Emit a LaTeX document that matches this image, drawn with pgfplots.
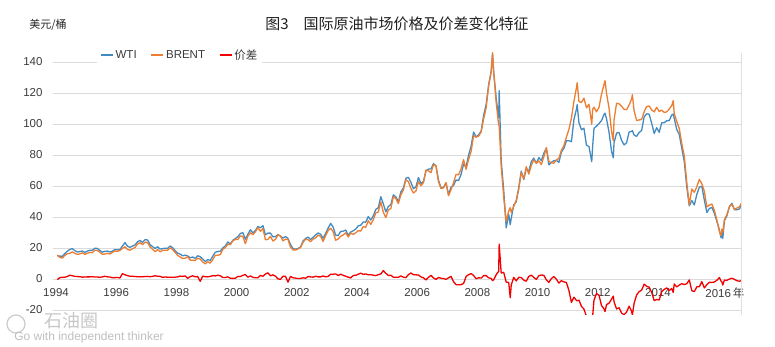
\documentclass[border=0pt]{standalone}
\usepackage{fontspec}
\setmainfont{Liberation Sans}
\newfontfamily\cjk{Noto Sans CJK SC}
\usepackage{pgfplots}
\usepackage{pgfplotstable}
\pgfplotsset{compat=1.18}
\definecolor{wti}{RGB}{66,139,193}
\definecolor{brent}{RGB}{237,125,49}
\definecolor{spr}{RGB}{240,0,0}
\definecolor{tick}{RGB}{60,60,60}
\pgfplotstableread{
yr m wti brent sp
1994 1 15.0 15.4 -0.4
1994 2 14.8 14.0 0.8
1994 3 14.7 13.5 1.2
1994 4 16.4 15.2 1.2
1994 5 17.9 16.3 1.6
1994 6 19.1 16.6 2.5
1994 7 19.6 17.5 2.1
1994 8 18.3 16.6 1.7
1994 9 17.5 15.9 1.6
1994 10 17.7 16.2 1.5
1994 11 18.1 16.9 1.2
1994 12 17.2 15.9 1.3
1995 1 18.0 16.6 1.4
1995 2 18.6 17.2 1.4
1995 3 18.5 17.0 1.5
1995 4 19.9 18.6 1.3
1995 5 19.7 18.4 1.3
1995 6 18.4 17.3 1.1
1995 7 17.3 15.9 1.4
1995 8 17.9 16.1 1.8
1995 9 18.0 16.6 1.4
1995 10 17.4 16.1 1.3
1995 11 18.0 17.2 0.8
1995 12 19.0 18.1 0.9
1996 1 18.9 17.9 1.0
1996 2 19.1 18.4 0.7
1996 3 21.3 19.8 3.5
1996 4 23.5 20.8 2.7
1996 5 21.2 19.0 2.2
1996 6 20.4 18.6 1.8
1996 7 21.3 19.5 1.8
1996 8 22.0 20.4 1.6
1996 9 24.0 22.5 1.5
1996 10 24.9 23.5 1.4
1996 11 23.7 22.2 1.5
1996 12 25.4 23.8 1.6
1997 1 25.2 23.5 1.7
1997 2 22.2 20.7 1.5
1997 3 20.9 19.2 1.7
1997 4 19.7 17.6 2.1
1997 5 20.8 19.0 1.8
1997 6 19.3 17.6 1.7
1997 7 19.6 18.5 1.1
1997 8 19.9 18.6 1.3
1997 9 19.8 18.6 1.2
1997 10 21.3 20.1 1.2
1997 11 20.2 19.1 1.1
1997 12 18.3 17.1 1.2
1998 1 16.7 15.3 1.4
1998 2 16.1 14.2 1.9
1998 3 15.0 13.3 1.7
1998 4 15.4 13.4 2.0
1998 5 14.9 14.4 0.5
1998 6 13.7 12.2 1.5
1998 7 14.2 12.1 2.1
1998 8 13.4 12.0 1.4
1998 9 15.0 13.4 1.6
1998 10 14.4 12.9 -1.5
1998 11 12.9 11.0 1.9
1998 12 11.3 9.8 1.5
1999 1 12.5 11.1 1.4
1999 2 12.0 10.3 1.7
1999 3 14.7 12.5 2.2
1999 4 17.3 15.3 2.0
1999 5 17.8 15.3 2.5
1999 6 17.9 15.8 2.1
1999 7 20.1 19.1 1.0
1999 8 21.3 20.3 1.0
1999 9 23.9 22.5 1.4
1999 10 22.6 22.1 0.5
1999 11 25.0 24.6 0.4
1999 12 26.1 25.6 0.5
2000 1 27.2 25.5 1.7
2000 2 29.4 27.8 1.6
2000 3 29.9 27.5 2.4
2000 4 25.7 22.8 2.9
2000 5 28.8 27.6 1.2
2000 6 31.8 29.8 2.0
2000 7 29.7 28.6 1.1
2000 8 31.3 30.5 0.8
2000 9 33.9 33.1 0.8
2000 10 33.1 30.8 2.3
2000 11 34.4 32.6 1.8
2000 12 28.5 25.3 3.2
2001 1 29.6 25.6 4.0
2001 2 29.6 27.5 2.1
2001 3 27.2 24.5 2.7
2001 4 27.4 25.6 1.8
2001 5 28.6 28.5 0.1
2001 6 27.6 27.8 -0.2
2001 7 26.4 24.6 1.8
2001 8 27.4 25.7 1.7
2001 9 26.2 25.6 -2.0
2001 10 22.2 20.5 1.7
2001 11 19.6 18.8 0.8
2001 12 19.3 18.7 0.6
2002 1 19.7 19.4 0.3
2002 2 20.7 20.3 0.4
2002 3 24.5 23.7 0.8
2002 4 26.2 25.7 0.5
2002 5 27.0 25.4 1.6
2002 6 25.5 24.1 1.4
2002 7 26.9 25.7 1.2
2002 8 28.4 26.6 1.8
2002 9 29.7 28.3 1.4
2002 10 28.9 27.5 1.4
2002 11 26.3 24.3 2.0
2002 12 29.4 28.0 1.4
2003 1 32.9 31.2 1.7
2003 2 35.9 32.8 3.1
2003 3 33.5 30.4 3.1
2003 4 28.3 25.0 3.3
2003 5 28.1 25.8 2.3
2003 6 30.7 27.6 3.1
2003 7 30.8 28.4 2.4
2003 8 31.6 29.8 1.8
2003 9 28.3 27.1 1.2
2003 10 30.3 29.6 0.7
2003 11 31.1 28.8 2.3
2003 12 32.2 29.8 2.4
2004 1 34.3 31.2 3.1
2004 2 34.7 30.9 3.8
2004 3 36.8 33.8 3.0
2004 4 36.7 33.4 3.3
2004 5 40.3 37.6 2.7
2004 6 38.0 35.2 2.8
2004 7 40.7 38.2 2.5
2004 8 44.9 42.7 2.2
2004 9 46.0 43.2 2.8
2004 10 53.1 49.8 3.3
2004 11 48.5 43.1 5.4
2004 12 43.3 39.6 3.7
2005 1 46.8 44.5 2.3
2005 2 48.0 45.5 2.5
2005 3 54.3 53.1 1.2
2005 4 53.0 51.9 1.1
2005 5 49.8 48.7 1.1
2005 6 56.3 54.3 2.0
2005 7 58.7 57.5 1.2
2005 8 65.0 64.1 0.9
2005 9 65.6 62.8 2.8
2005 10 62.4 58.5 3.9
2005 11 58.3 55.5 2.8
2005 12 59.4 56.7 2.7
2006 1 65.5 62.9 2.6
2006 2 61.6 60.2 1.4
2006 3 62.9 62.1 0.8
2006 4 69.7 70.3 -0.6
2006 5 70.9 69.8 1.1
2006 6 71.0 68.6 2.4
2006 7 74.4 73.7 0.7
2006 8 73.0 73.2 -0.2
2006 9 63.8 62.8 1.0
2006 10 58.9 58.4 0.5
2006 11 59.1 58.8 0.3
2006 12 62.0 62.2 -0.2
2007 1 54.5 53.7 0.8
2007 2 59.3 57.6 1.7
2007 3 60.4 62.1 -1.7
2007 4 63.9 67.5 -3.6
2007 5 63.5 67.2 -3.7
2007 6 67.5 71.1 -3.6
2007 7 74.1 77.0 -2.9
2007 8 72.4 70.8 1.6
2007 9 79.9 77.1 2.8
2007 10 85.8 82.3 3.5
2007 11 94.8 92.5 2.3
2007 12 91.7 91.5 0.2
2008 1 93.0 92.2 0.8
2008 2 95.4 94.8 0.6
2008 3 105.5 103.3 2.2
2008 4 112.6 110.4 2.2
2008 5 125.4 124.6 0.8
2008 6 133.9 133.5 0.4
2008 6.55 145.0 146.0 -1.0
2008 7 133.4 133.9 -0.5
2008 8 116.7 113.9 2.8
2008 9 104.1 99.1 5.0
2008 9.2 121.5 99.0 22.5
2008 10 76.6 72.7 3.9
2008 11 57.3 53.0 4.3
2008 12 33.0 37.0 -2.0
2009 1 41.7 43.9 -2.2
2009 1.6 35.0 46.0 -12.0
2009 2 39.1 43.0 -3.9
2009 3 47.9 46.8 1.1
2009 4 49.7 50.9 -1.2
2009 5 59.0 57.9 1.1
2009 6 69.6 68.6 1.0
2009 7 64.2 64.9 -0.7
2009 8 71.1 72.5 -1.4
2009 9 69.4 67.7 1.7
2009 10 75.7 73.2 2.5
2009 11 78.0 77.0 1.0
2009 12 74.5 74.7 -0.2
2010 1 78.3 76.2 2.1
2010 2 76.4 73.8 2.6
2010 3 81.2 78.8 2.4
2010 4 84.3 84.8 -0.5
2010 5 73.7 75.9 -2.2
2010 6 75.3 75.0 0.3
2010 7 76.3 74.7 1.6
2010 8 76.6 76.7 -0.1
2010 9 75.2 77.8 -2.6
2010 10 81.9 83.0 -1.1
2010 11 84.3 86.1 -1.8
2010 12 89.2 91.5 -2.3
2011 1 89.2 96.5 -7.3
2011 2 88.6 103.7 -15.1
2011 3 102.9 114.6 -11.7
2011 4 109.5 123.3 -13.8
2011 4.3 112.5 126.6 -14.1
2011 5 100.9 114.5 -13.6
2011 6 96.3 113.9 -17.6
2011 7 97.3 116.7 -19.4
2011 8 86.3 110.4 -24.1
2011 9 85.5 112.8 -27.3
2011 10.1 75.7 99.8 -24.1
2011 10.5 86.3 109.6 -23.3
2011 11 97.2 110.8 -13.6
2011 12 98.6 107.9 -9.3
2012 1 100.3 110.7 -10.4
2012 2 102.2 119.3 -17.1
2012 3 106.2 125.5 -19.3
2012 3.4 107.0 128.0 -21.0
2012 4 103.3 119.8 -16.5
2012 5 94.7 110.3 -15.6
2012 6 82.3 95.2 -12.9
2012 6.7 78.2 89.2 -11.0
2012 7 87.9 102.6 -14.7
2012 8 94.1 113.4 -19.3
2012 9 94.5 113.0 -18.5
2012 10 89.5 111.5 -22.0
2012 11 86.5 109.5 -23.0
2012 12 87.9 109.2 -21.3
2013 1 94.8 112.3 -17.5
2013 2 95.3 116.1 -20.8
2013 2.3 95.7 118.9 -23.2
2013 3 92.9 108.5 -15.6
2013 4 92.0 102.3 -10.3
2013 5 94.5 102.6 -8.1
2013 6 95.8 102.9 -7.1
2013 7 104.6 107.9 -3.3
2013 8 106.6 111.3 -4.7
2013 9 106.3 111.6 -5.3
2013 10 100.5 109.1 -8.6
2013 11 93.9 107.8 -13.9
2013 12 97.6 110.8 -13.2
2014 1 94.6 108.1 -13.5
2014 2 100.8 108.9 -8.1
2014 3 100.8 107.5 -6.7
2014 4 102.1 107.8 -5.7
2014 5 102.2 109.7 -7.5
2014 6 105.8 111.9 -6.1
2014 6.6 106.4 115.1 -8.7
2014 7 103.6 106.8 -3.2
2014 8 96.5 101.6 -5.1
2014 9 93.2 97.1 -3.9
2014 10 84.4 87.4 -3.0
2014 11 75.8 79.4 -3.6
2014 12 59.3 62.3 -3.0
2015 1 47.2 47.8 -0.6
2015 2 50.6 58.1 -7.5
2015 3 47.8 55.9 -8.1
2015 4 54.5 59.5 -5.0
2015 5 59.3 64.3 -5.0
2015 6 59.8 61.5 -1.7
2015 7 50.9 56.6 -5.7
2015 8 42.9 46.5 -3.6
2015 9 45.5 47.6 -2.1
2015 10 46.2 48.4 -2.2
2015 11 42.4 44.3 -1.9
2015 12 37.2 38.0 -0.8
2016 1 31.7 30.7 1.0
2016 1.65 26.6 27.9 -1.3
2016 2 30.3 32.2 -1.9
2016 2.35 26.2 30.1 -3.9
2016 3 37.5 38.2 -0.7
2016 4 40.8 41.6 -0.8
2016 5 46.7 46.7 0.0
2016 6 48.8 48.3 0.5
2016 7 44.7 44.9 -0.2
2016 8 44.7 45.8 -1.1
2016 9 45.2 46.6 -1.4
2016 9.8 48.0 49.0 -1.0
}\oil
\begin{document}
\begin{tikzpicture}
\path[use as bounding box] (-53pt,-32pt) rectangle (722pt,315pt);
\begin{axis}[
  scale only axis, width=688pt, height=262pt,
  at={(0pt,0pt)}, anchor=south west,
  xmin=1993.9, xmax=2016.76, ymin=-23.2, ymax=145.8,
  axis line style={draw=none},
  major tick length=0pt,
  xtick={1994,1996,...,2016},
  xticklabels={1994,1996,1998,2000,2002,2004,2006,2008,2010,2012,2014,{2016\rlap{\,{\cjk 年}}}},
  ytick={-20,0,...,140},
  ymajorgrids, grid style={color=black!14, line width=0.7pt},
  tick label style={font=\fontsize{11.5}{13}\selectfont, text=tick},
  /pgf/number format/assume math mode=true,
  xticklabel style={anchor=center, yshift=22pt},
  yticklabel style={xshift=-7pt},
  legend columns=-1,
  legend style={at={(0.064,0.9925)}, anchor=west, draw=none, fill=white,
    inner xsep=3pt, inner ysep=1pt, font=\fontsize{11.5}{13}\selectfont, text=tick,
    /tikz/every even column/.append style={column sep=12pt}},
  legend image code/.code={\draw[#1, line width=1.4pt] (0pt,0pt) -- (12pt,0pt);},
]
\addplot[wti, line width=1.3pt, line join=round] table[x expr=\thisrow{yr}+(\thisrow{m}-0.5)/12, y=wti] {\oil};
\addlegendentry{WTI}
\addplot[brent, line width=1.3pt, line join=round] table[x expr=\thisrow{yr}+(\thisrow{m}-0.5)/12, y=brent] {\oil};
\addlegendentry{BRENT}
\addplot[spr, line width=1.3pt, line join=round] table[x expr=\thisrow{yr}+(\thisrow{m}-0.5)/12, y=sp] {\oil};
\addlegendentry{\cjk 价差}
\end{axis}
\draw[black!12, line width=0.8pt] (688pt,0pt) -- (688pt,262pt);
\node[font=\cjk\fontsize{15}{17}\selectfont, text=black!88] at (344pt,291pt) {图3\hspace{1em}国际原油市场价格及价差变化特征};
\node[font=\cjk\fontsize{11}{13}\selectfont, text=black!85] at (-5pt,290pt) {美元/桶};
\draw[black!20, line width=1.2pt] (-37pt,-9pt) circle (9pt);
\node[font=\cjk\fontsize{18}{20}\selectfont, text=black!22] at (18pt,-6pt) {石油圈};
\node[font=\fontsize{12}{14}\selectfont, text=black!25] at (36pt,-22pt) {Go with independent thinker};
\end{tikzpicture}
\end{document}
